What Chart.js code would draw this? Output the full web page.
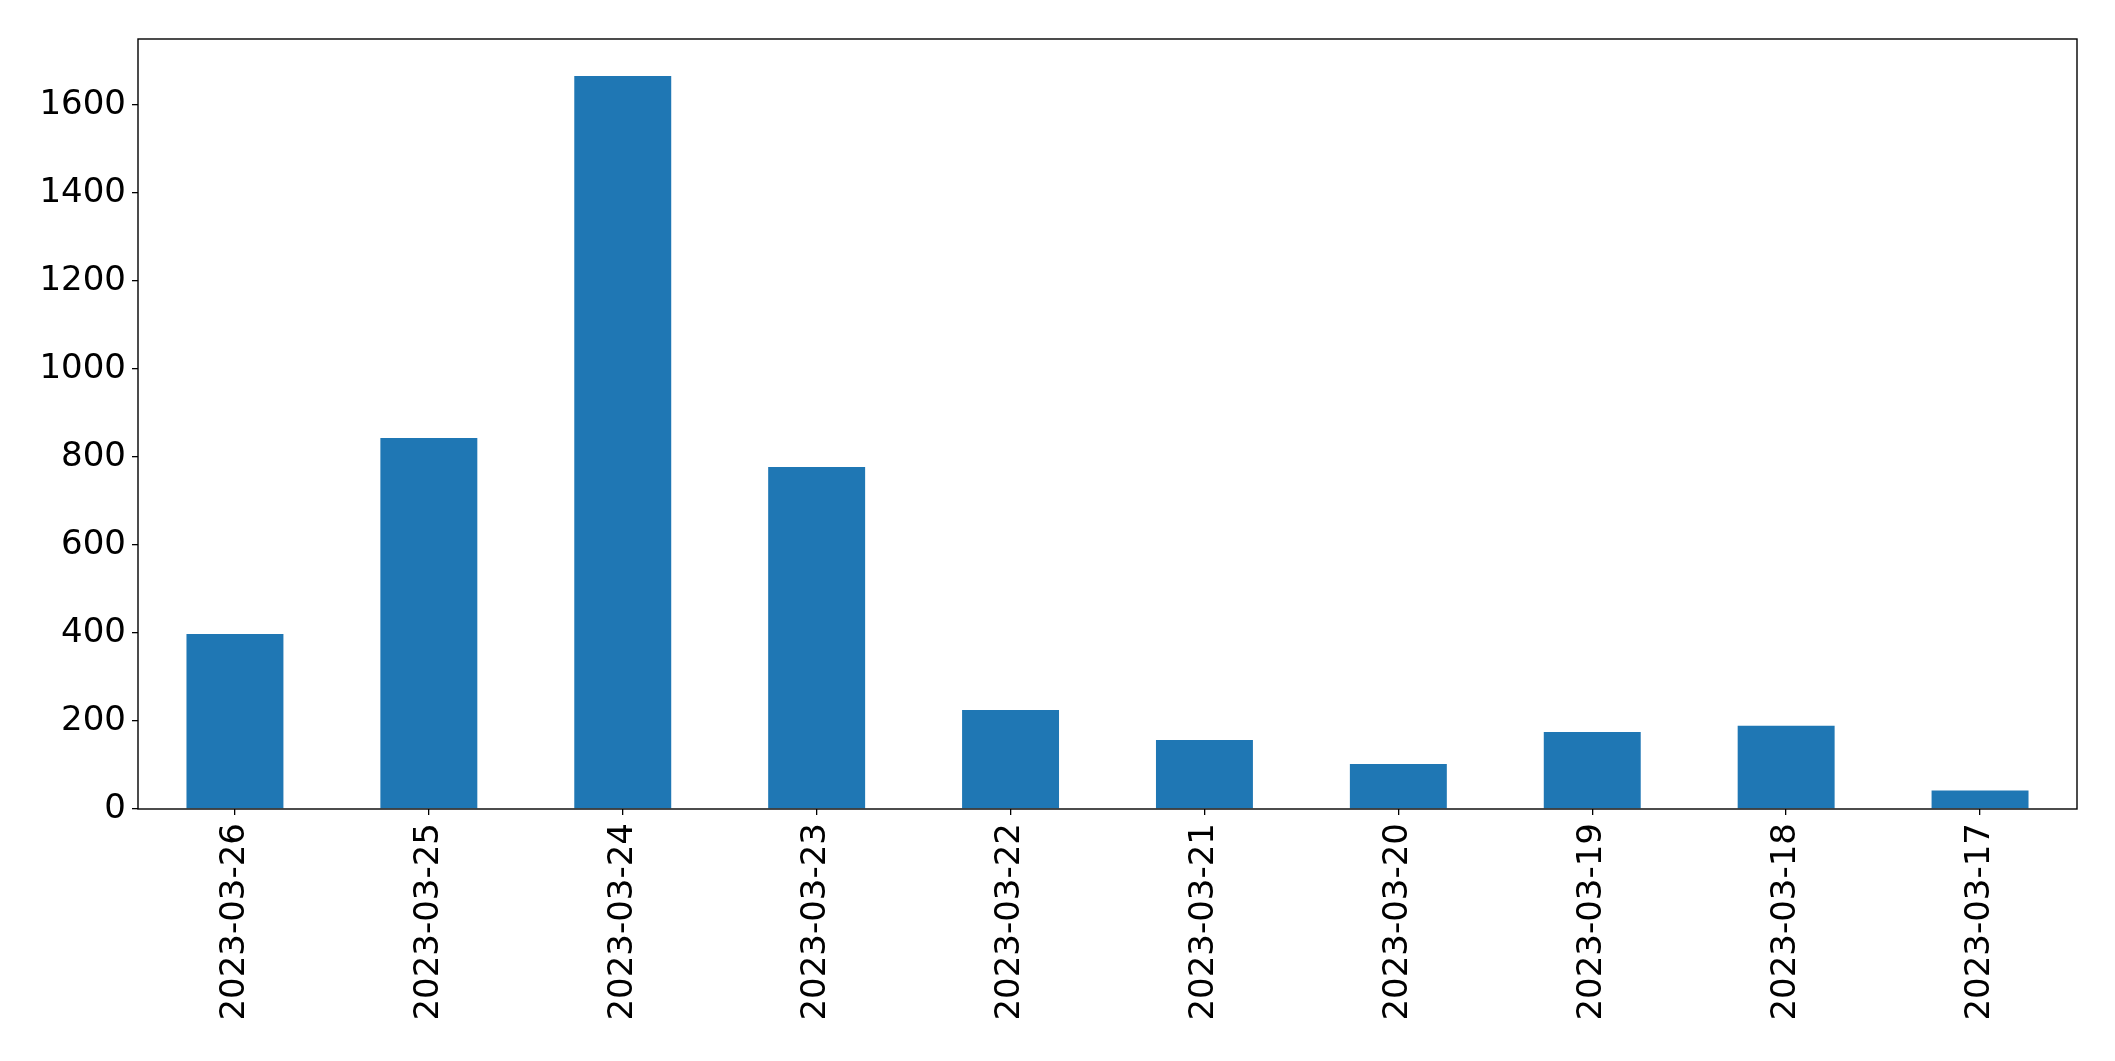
<!DOCTYPE html>
<html>
<head>
<meta charset="utf-8">
<script src="https://cdn.jsdelivr.net/npm/chart.js@4/dist/chart.umd.min.js"></script>
<style>
  html, body { margin: 0; padding: 0; background: #fff; }
  #wrap { width: 2115px; height: 1061px; }
</style>
</head>
<body>
<div id="wrap"><canvas id="barChart" width="2115" height="1061"></canvas></div>
<script>
// values
const dates = ['2023-03-26', '2023-03-25', '2023-03-24', '2023-03-23', '2023-03-22',
               '2023-03-21', '2023-03-20', '2023-03-19', '2023-03-18', '2023-03-17'];
const counts = [398, 843, 1666, 777, 225, 157, 102, 175, 189, 42];
const yTicks = [0, 200, 400, 600, 800, 1000, 1200, 1400, 1600];
const yMax = 1750;

// frame round the plot area, like the axes box
const framePlugin = {
  id: 'frame',
  afterDraw(chart) {
    const a = chart.chartArea;
    const ctx = chart.ctx;
    ctx.save();
    ctx.strokeStyle = '#000';
    ctx.lineWidth = 1.4;
    ctx.strokeRect(a.left, a.top, a.right - a.left, a.bottom - a.top);
    ctx.restore();
  }
};

const fontSpec = { family: '"DejaVu Sans", sans-serif', size: 34 };

const barChart = new Chart(document.getElementById('barChart'), {
  type: 'bar',
  data: {
    labels: dates,
    datasets: [{
      data: counts,
      backgroundColor: '#1f77b4',
      borderWidth: 0,
      categoryPercentage: 1.0,
      barPercentage: 0.5
    }]
  },
  options: {
    responsive: false,
    animation: false,
    layout: { padding: { left: 0, right: 38, top: 39, bottom: 0 } },
    plugins: {
      legend: { display: false },
      tooltip: { enabled: false }
    },
    scales: {
      x: {
        offset: true,
        grid: {
          display: true,
          offset: false,
          drawOnChartArea: false,
          drawTicks: true,
          tickLength: 6,
          color: '#000',
          lineWidth: 1.3
        },
        border: { display: false },
        ticks: {
          color: '#000',
          font: fontSpec,
          minRotation: 90,
          maxRotation: 90,
          autoSkip: false,
          padding: 8
        },
        afterFit(scale) { scale.height = 252; }
      },
      y: {
        min: 0,
        max: yMax,
        grid: {
          display: true,
          drawOnChartArea: false,
          drawTicks: true,
          tickLength: 6,
          color: '#000',
          lineWidth: 1.3
        },
        border: { display: false },
        ticks: {
          color: '#000',
          font: fontSpec,
          padding: 6,
          callback: (v) => String(v)
        },
        afterBuildTicks(scale) {
          scale.ticks = yTicks.map(v => ({ value: v }));
        },
        afterFit(scale) { scale.width = 138; }
      }
    }
  },
  plugins: [framePlugin]
});
</script>
</body>
</html>
